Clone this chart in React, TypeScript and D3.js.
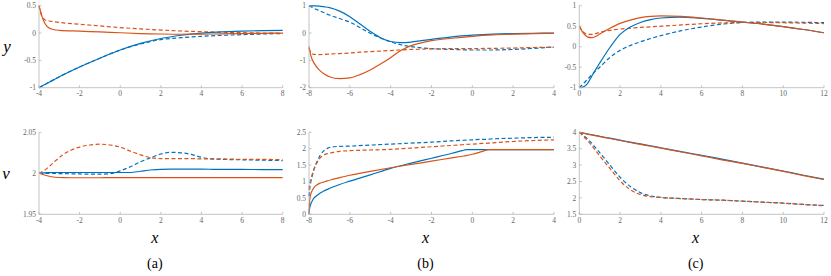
import React from "react";
import * as d3 from "d3";

// ---------- Data ----------
// Panel (a) top: y
const aTopX = [-4, -3.85, -3.7, -3.5, -3.3, -3, -2, -1, 0, 1, 2, 3, 4, 5, 6, 7, 8];
const aTopBlueSolid = [-1, -0.97, -0.94, -0.9, -0.86, -0.8, -0.62, -0.46, -0.31, -0.19, -0.1, -0.04, 0.0, 0.02, 0.035, 0.045, 0.05];
const aTopBlueDash = [-1, -0.97, -0.94, -0.9, -0.86, -0.8, -0.62, -0.46, -0.31, -0.2, -0.12, -0.085, -0.06, -0.042, -0.03, -0.018, -0.008];
const aTopOrangeSolid = [0.5, 0.3, 0.17, 0.09, 0.065, 0.05, 0.035, 0.02, 0.005, -0.01, -0.018, -0.022, -0.02, -0.015, -0.01, -0.005, 0.0];
const aTopOrangeDash = [0.5, 0.3, 0.24, 0.22, 0.21, 0.195, 0.16, 0.13, 0.1, 0.075, 0.055, 0.037, 0.025, 0.015, 0.007, 0.0, -0.005];

// Panel (a) bottom: v
const aBotX = [-4, -3.6, -3.2, -2.8, -2.4, -2, -1.5, -1, -0.5, 0, 0.5, 1, 1.5, 2, 2.5, 3, 3.5, 4, 4.5, 5, 6, 7, 8];
const aBotOrangeDash = [2.0, 2.006, 2.015, 2.023, 2.0285, 2.032, 2.0345, 2.0355, 2.0345, 2.032, 2.027, 2.0225, 2.019, 2.018, 2.018, 2.018, 2.018, 2.0175, 2.0175, 2.0175, 2.017, 2.017, 2.0165];
const aBotBlueDash = [2.0, 2.0, 1.9998, 1.9996, 1.9994, 1.9992, 1.999, 1.999, 1.9995, 2.003, 2.008, 2.014, 2.019, 2.0235, 2.0255, 2.025, 2.023, 2.0195, 2.0175, 2.017, 2.0165, 2.016, 2.0155];
const aBotBlueSolid = [2.0, 2.0008, 2.001, 2.001, 2.001, 2.001, 2.001, 2.001, 2.001, 2.001, 2.001, 2.0025, 2.004, 2.0048, 2.005, 2.005, 2.005, 2.005, 2.0049, 2.0048, 2.0047, 2.0046, 2.0045];
const aBotOrangeSolid = [2.0, 1.997, 1.9952, 1.9947, 1.9946, 1.9946, 1.9946, 1.9946, 1.9947, 1.9947, 1.9947, 1.9947, 1.9948, 1.9948, 1.9948, 1.9948, 1.9948, 1.9948, 1.9948, 1.9948, 1.9948, 1.9948, 1.9948];

// Panel (b) top: y
const bTopX = [-8, -7.9, -7.75, -7.5, -7.25, -7, -6.5, -6, -5.5, -5, -4.5, -4, -3.5, -3, -2.5, -2, -1, 0, 1, 2, 3, 4];
const bTopBlueSolid = [1.0, 1.0, 0.995, 0.985, 0.96, 0.93, 0.8, 0.6, 0.33, 0.06, -0.17, -0.31, -0.35, -0.33, -0.28, -0.23, -0.14, -0.08, -0.04, -0.02, -0.01, 0.0];
const bTopBlueDash = [1.0, 0.96, 0.9, 0.82, 0.74, 0.66, 0.53, 0.4, 0.2, -0.01, -0.18, -0.32, -0.43, -0.5, -0.54, -0.57, -0.6, -0.62, -0.62, -0.6, -0.56, -0.51];
const bTopOrangeSolid = [-0.5, -0.85, -1.1, -1.35, -1.5, -1.6, -1.67, -1.64, -1.52, -1.35, -1.13, -0.9, -0.64, -0.46, -0.36, -0.28, -0.19, -0.12, -0.07, -0.04, -0.02, -0.01];
const bTopOrangeDash = [-0.55, -0.72, -0.78, -0.79, -0.78, -0.77, -0.75, -0.73, -0.7, -0.68, -0.66, -0.64, -0.62, -0.6, -0.59, -0.58, -0.57, -0.57, -0.56, -0.55, -0.53, -0.52];

// Panel (b) bottom: v
const bBotX = [-8, -7.97, -7.92, -7.85, -7.75, -7.6, -7.45, -7.3, -7.1, -6.8, -6.5, -6, -5, -4, -3, -2, -1, -0.5, -0.3, 0, 0.5, 0.8, 1, 2, 3, 4];
const bBotBlueDash = [0.55, 0.75, 0.95, 1.15, 1.38, 1.62, 1.8, 1.92, 2.01, 2.06, 2.07, 2.08, 2.11, 2.14, 2.17, 2.2, 2.24, 2.255, 2.26, 2.27, 2.285, 2.29, 2.3, 2.32, 2.34, 2.35];
const bBotOrangeDash = [0.75, 0.9, 1.05, 1.2, 1.38, 1.58, 1.72, 1.8, 1.85, 1.89, 1.92, 1.94, 1.96, 1.98, 2.02, 2.06, 2.1, 2.12, 2.13, 2.14, 2.16, 2.17, 2.18, 2.22, 2.25, 2.27];
const bBotOrangeSolid = [0.0, 0.4, 0.6, 0.72, 0.82, 0.9, 0.95, 0.98, 1.02, 1.07, 1.12, 1.19, 1.31, 1.42, 1.52, 1.62, 1.72, 1.77, 1.79, 1.83, 1.92, 1.97, 1.97, 1.97, 1.97, 1.97];
const bBotBlueSolid = [0.0, 0.18, 0.3, 0.4, 0.5, 0.58, 0.65, 0.7, 0.76, 0.84, 0.91, 1.01, 1.2, 1.4, 1.56, 1.71, 1.86, 1.94, 1.97, 1.97, 1.97, 1.97, 1.97, 1.97, 1.97, 1.97];

// Panel (c) top: y
const cTopX = [0, 0.2, 0.4, 0.6, 0.8, 1, 1.5, 2, 2.5, 3, 3.5, 4, 5, 6, 7, 8, 9, 10, 11, 12];
const cTopBlueSolid = [-1, -0.98, -0.9, -0.73, -0.56, -0.4, -0.02, 0.3, 0.48, 0.59, 0.66, 0.7, 0.72, 0.69, 0.65, 0.6, 0.55, 0.49, 0.42, 0.34];
const cTopBlueDash = [-1, -0.9, -0.8, -0.69, -0.59, -0.5, -0.26, -0.09, 0.03, 0.12, 0.2, 0.27, 0.39, 0.48, 0.55, 0.59, 0.6, 0.6, 0.595, 0.585];
const cTopOrangeSolid = [0.5, 0.33, 0.24, 0.22, 0.25, 0.31, 0.45, 0.57, 0.65, 0.71, 0.74, 0.75, 0.74, 0.7, 0.65, 0.6, 0.55, 0.49, 0.42, 0.34];
const cTopOrangeDash = [0.5, 0.36, 0.3, 0.3, 0.32, 0.35, 0.4, 0.43, 0.45, 0.47, 0.485, 0.5, 0.53, 0.56, 0.58, 0.59, 0.59, 0.585, 0.575, 0.565];

// Panel (c) bottom: v
const cBotX = [0, 0.25, 0.5, 1, 1.5, 2, 2.5, 3, 3.5, 4, 5, 6, 7, 8, 9, 10, 11, 12];
const cBotBlueSolid = [4.0, 3.97, 3.94, 3.88, 3.82, 3.76, 3.7, 3.645, 3.59, 3.53, 3.41, 3.3, 3.18, 3.06, 2.94, 2.82, 2.69, 2.57];
const cBotOrangeSolid = [4.0, 3.965, 3.93, 3.87, 3.81, 3.75, 3.69, 3.63, 3.575, 3.515, 3.4, 3.28, 3.16, 3.05, 2.93, 2.81, 2.68, 2.56];
const cBotBlueDash = [4.0, 3.88, 3.74, 3.38, 3.0, 2.63, 2.35, 2.16, 2.06, 2.02, 1.98, 1.95, 1.93, 1.9, 1.87, 1.84, 1.8, 1.77];
const cBotOrangeDash = [4.0, 3.85, 3.68, 3.28, 2.9, 2.52, 2.25, 2.1, 2.04, 2.01, 1.98, 1.95, 1.93, 1.9, 1.87, 1.84, 1.8, 1.76];

// Ticks
const aXTicks = [-4, -2, 0, 2, 4, 6, 8];
const bXTicks = [-8, -6, -4, -2, 0, 2, 4];
const cXTicks = [0, 2, 4, 6, 8, 10, 12];
const aTopYTicks = [-1, -0.5, 0, 0.5];
const bTopYTicks = [-2, -1, 0, 1];
const cTopYTicks = [-1, -0.5, 0, 0.5, 1];
const aBotYTicks = [1.95, 2, 2.05];
const bBotYTicks = [0, 0.5, 1, 1.5, 2, 2.5];
const cBotYTicks = [1.5, 2, 2.5, 3, 3.5, 4];
const panelLabels = ["(a)", "(b)", "(c)"];

// ---------- Styles ----------
const BLUE = "#0072BD";
const ORANGE = "#D95319";
const AXIS = "#b4b4b4";
const TICKTXT = "#666666";
const FONT = "'Liberation Serif', 'Times New Roman', Times, 'DejaVu Serif', serif";

type Series = { x: number[]; y: number[]; color: string; dash: boolean };
type Plot = {
  x0: number; x1: number; y0: number; y1: number;
  xDom: [number, number]; yDom: [number, number];
  xTicks: number[]; yTicks: number[];
  series: Series[];
};

const TOP = { y0: 5.7, y1: 87.7 };
const BOT = { y0: 132.3, y1: 214.3 };
const COLS = [
  { x0: 39, x1: 282.7 },
  { x0: 309, x1: 554 },
  { x0: 579.3, x1: 824 },
];

const mk = (x: number[], y: number[], color: string, dash: boolean): Series => ({ x, y, color, dash });

const plots: Plot[] = [
  {
    ...COLS[0], ...TOP, xDom: [-4, 8], yDom: [-1, 0.5], xTicks: aXTicks, yTicks: aTopYTicks,
    series: [
      mk(aTopX, aTopBlueDash, BLUE, true),
      mk(aTopX, aTopOrangeDash, ORANGE, true),
      mk(aTopX, aTopBlueSolid, BLUE, false),
      mk(aTopX, aTopOrangeSolid, ORANGE, false),
    ],
  },
  {
    ...COLS[1], ...TOP, xDom: [-8, 4], yDom: [-2, 1], xTicks: bXTicks, yTicks: bTopYTicks,
    series: [
      mk(bTopX, bTopBlueDash, BLUE, true),
      mk(bTopX, bTopOrangeDash, ORANGE, true),
      mk(bTopX, bTopBlueSolid, BLUE, false),
      mk(bTopX, bTopOrangeSolid, ORANGE, false),
    ],
  },
  {
    ...COLS[2], ...TOP, xDom: [0, 12], yDom: [-1, 1], xTicks: cXTicks, yTicks: cTopYTicks,
    series: [
      mk(cTopX, cTopBlueDash, BLUE, true),
      mk(cTopX, cTopOrangeDash, ORANGE, true),
      mk(cTopX, cTopBlueSolid, BLUE, false),
      mk(cTopX, cTopOrangeSolid, ORANGE, false),
    ],
  },
  {
    ...COLS[0], ...BOT, xDom: [-4, 8], yDom: [1.95, 2.05], xTicks: aXTicks, yTicks: aBotYTicks,
    series: [
      mk(aBotX, aBotBlueSolid, BLUE, false),
      mk(aBotX, aBotOrangeSolid, ORANGE, false),
      mk(aBotX, aBotBlueDash, BLUE, true),
      mk(aBotX, aBotOrangeDash, ORANGE, true),
    ],
  },
  {
    ...COLS[1], ...BOT, xDom: [-8, 4], yDom: [0, 2.5], xTicks: bXTicks, yTicks: bBotYTicks,
    series: [
      mk(bBotX, bBotBlueSolid, BLUE, false),
      mk(bBotX, bBotOrangeSolid, ORANGE, false),
      mk(bBotX, bBotBlueDash, BLUE, true),
      mk(bBotX, bBotOrangeDash, ORANGE, true),
    ],
  },
  {
    ...COLS[2], ...BOT, xDom: [0, 12], yDom: [1.5, 4], xTicks: cXTicks, yTicks: cBotYTicks,
    series: [
      mk(cBotX, cBotBlueSolid, BLUE, false),
      mk(cBotX, cBotOrangeSolid, ORANGE, false),
      mk(cBotX, cBotBlueDash, BLUE, true),
      mk(cBotX, cBotOrangeDash, ORANGE, true),
    ],
  },
];

const fmt = (v: number) => String(v);

function Panel({ p }: { p: Plot }) {
  const xs = d3.scaleLinear().domain(p.xDom).range([p.x0, p.x1]);
  const ys = d3.scaleLinear().domain(p.yDom).range([p.y1, p.y0]);
  const tl = 2.5;
  return (
    <g>
      {p.series.map((s, i) => {
        const pts: [number, number][] = s.x.map((xv, j) => [xs(xv), ys(s.y[j])]);
        const path = d3.line().curve(d3.curveMonotoneX)(pts) || "";
        return (
          <path key={i} d={path} fill="none" stroke={s.color} strokeWidth={1.2}
            strokeDasharray={s.dash ? "4,2.5" : undefined} />
        );
      })}
      <line x1={p.x0} x2={p.x1} y1={p.y1} y2={p.y1} stroke={AXIS} strokeWidth={0.8} />
      <line x1={p.x0} x2={p.x0} y1={p.y0} y2={p.y1} stroke={AXIS} strokeWidth={0.8} />
      {p.xTicks.map((t) => (
        <g key={"x" + t}>
          <line x1={xs(t)} x2={xs(t)} y1={p.y1} y2={p.y1 - tl} stroke={AXIS} strokeWidth={0.8} />
          <text x={xs(t)} y={p.y1 + 8.5} fontSize={7.5} fill={TICKTXT} textAnchor="middle" style={{ fontFamily: FONT }}>{fmt(t)}</text>
        </g>
      ))}
      {p.yTicks.map((t) => (
        <g key={"y" + t}>
          <line x1={p.x0} x2={p.x0 + tl} y1={ys(t)} y2={ys(t)} stroke={AXIS} strokeWidth={0.8} />
          <text x={p.x0 - 3} y={ys(t) + 2.6} fontSize={7.5} fill={TICKTXT} textAnchor="end" style={{ fontFamily: FONT }}>{fmt(t)}</text>
        </g>
      ))}
    </g>
  );
}

export default function App() {
  const lbl = { fontFamily: FONT, fontStyle: "italic" as const };
  return (
    <svg width={831} height={276} style={{ position: "absolute", left: 0, top: 0, background: "#fff" }}>
      {plots.map((p, i) => <Panel key={i} p={p} />)}
      <text x={7} y={52} fontSize={17} style={lbl} textAnchor="middle" fill="#000">y</text>
      <text x={6} y={179} fontSize={17} style={lbl} textAnchor="middle" fill="#000">v</text>
      {COLS.map((c, i) => (
        <g key={i}>
          <text x={(c.x0 + c.x1) / 2 - 6} y={243} fontSize={16} style={lbl} textAnchor="middle" fill="#000">x</text>
          <text x={(c.x0 + c.x1) / 2 - 6} y={268} fontSize={14} style={{ fontFamily: FONT }} textAnchor="middle" fill="#000">{panelLabels[i]}</text>
        </g>
      ))}
    </svg>
  );
}
